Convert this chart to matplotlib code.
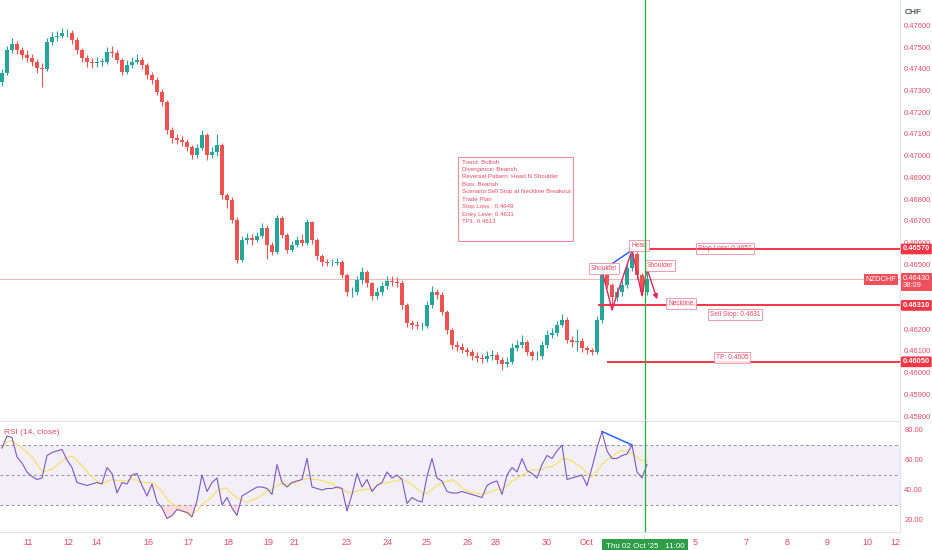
import numpy as np
import pandas as pd
import matplotlib
matplotlib.use("Agg")
import matplotlib.pyplot as plt
from matplotlib.transforms import blended_transform_factory
from matplotlib.patches import FancyArrowPatch, Rectangle

plt.rcParams['font.family'] = ['Liberation Sans Narrow', 'Liberation Sans', 'DejaVu Sans']

# hourly-ish bars of NZDCHF
closes = [.47381, .47487, .47515, .47487, .47464, .47450, .47432, .47404, .47399, .47524,
          .47547, .47552, .47565, .47565, .47533, .47487, .47450, .47432, .47427, .47432,
          .47432, .47478, .47473, .47441, .47386, .47418, .47432, .47441, .47418, .47372,
          .47349, .47294, .47247, .47118, .47082, .47072, .47063, .47040, .47003, .47035,
          .47095, .47003, .47017, .47049, .46819, .46796, .46704, .46519, .46611, .46621,
          .46611, .46630, .46667, .46588, .46556, .46713, .46635, .46565, .46588, .46611,
          .46598, .46694, .46611, .46538, .46510, .46505, .46505, .46510, .46450, .46372,
          .46372, .46427, .46464, .46413, .46353, .46372, .46399, .46423, .46418, .46413,
          .46312, .46229, .46220, .46215, .46215, .46312, .46372, .46358, .46280, .46197,
          .46128, .46118, .46105, .46095, .46077, .46068, .46063, .46077, .46082, .46058,
          .46040, .46049, .46114, .46128, .46141, .46095, .46077, .46077, .46128, .46174,
          .46183, .46220, .46243, .46151, .46141, .46146, .46114, .46105, .46095, .46243,
          .46450, .46404, .46349, .46372, .46404, .46482, .46547, .46450, .46372, .46432]
highs = [.47400, .47505, .47540, .47530, .47500, .47485, .47470, .47445, .47425, .47540,
         .47570, .47575, .47590, .47585, .47580, .47545, .47495, .47465, .47450, .47455,
         .47450, .47500, .47505, .47485, .47450, .47440, .47455, .47470, .47455, .47425,
         .47385, .47360, .47305, .47255, .47130, .47100, .47090, .47075, .47050, .47055,
         .47120, .47105, .47040, .47100, .47060, .46830, .46810, .46715, .46630, .46645,
         .46640, .46650, .46690, .46680, .46600, .46725, .46720, .46645, .46605, .46630,
         .46640, .46710, .46700, .46620, .46545, .46525, .46525, .46530, .46520, .46460,
         .46395, .46445, .46485, .46475, .46420, .46395, .46420, .46445, .46445, .46440,
         .46425, .46320, .46245, .46240, .46235, .46330, .46400, .46385, .46370, .46290,
         .46205, .46145, .46135, .46120, .46110, .46095, .46085, .46100, .46105, .46095,
         .46070, .46070, .46135, .46150, .46175, .46150, .46105, .46100, .46145, .46195,
         .46205, .46240, .46270, .46255, .46170, .46200, .46160, .46125, .46115, .46260,
         .46470, .46465, .46415, .46395, .46425, .46500, .46565, .46555, .46460, .46480]
lows = [.47320, .47370, .47475, .47470, .47445, .47430, .47415, .47380, .47317, .47390,
        .47510, .47530, .47540, .47545, .47515, .47470, .47430, .47410, .47405, .47410,
        .47415, .47420, .47455, .47425, .47370, .47375, .47405, .47420, .47400, .47355,
        .47330, .47280, .47230, .47100, .47060, .47055, .47045, .47020, .46985, .46990,
        .47025, .46980, .46990, .47000, .46800, .46760, .46690, .46505, .46510, .46595,
        .46590, .46600, .46620, .46525, .46540, .46545, .46620, .46550, .46555, .46580,
        .46585, .46590, .46595, .46520, .46490, .46490, .46490, .46495, .46435, .46355,
        .46350, .46360, .46410, .46395, .46335, .46340, .46360, .46385, .46400, .46395,
        .46295, .46210, .46200, .46200, .46195, .46205, .46300, .46340, .46265, .46180,
        .46110, .46100, .46090, .46075, .46060, .46050, .46045, .46050, .46060, .46040,
        .46012, .46025, .46040, .46100, .46115, .46080, .46060, .46060, .46065, .46115,
        .46160, .46170, .46210, .46135, .46120, .46100, .46095, .46085, .46080, .46085,
        .46230, .46390, .46290, .46330, .46355, .46390, .46470, .46430, .46355, .46360]
first_open = .47340

rsi = [68, 76, 75, 62, 58, 52, 49, 47, 48, 63, 65, 66, 67, 60, 55, 45, 44, 43, 44, 45,
       44, 55, 51, 38, 45, 44, 50, 51, 43, 36, 44, 32, 28, 21, 23, 27, 26, 25, 22, 33,
       50, 39, 45, 48, 30, 35, 28, 23, 36, 38, 40, 42, 42, 41, 37, 57, 45, 42, 45, 46,
       47, 61, 42, 41, 40, 41, 41, 42, 41, 26, 37, 51, 42, 47, 39, 43, 45, 52, 48, 50,
       47, 31, 35, 33, 32, 49, 61, 48, 46, 39, 38, 38, 39, 38, 37, 36, 35, 43, 45, 46,
       37, 50, 55, 52, 61, 53, 51, 48, 57, 63, 61, 66, 70, 47, 48, 49, 50, 43, 55, 68,
       79, 66, 61, 61, 63, 64, 70, 52, 48, 57]

day_ticks = [5.2, 13.2, 18.8, 29.2, 37.2, 45.2, 53.2, 58.6, 69, 77.2, 85, 93.2, 98.8,
             109, 117, 138.6, 148.8, 157, 165, 173, 178.6]
day_labels = ["11", "12", "14", "16", "17", "18", "19", "21", "23", "24", "25", "26",
              "28", "30", "Oct", "5", "7", "8", "9", "10", "12"]

stop_loss = 0.4657
neckline = 0.4631
take_profit = 0.4605
last_price = 0.4643
price_ticks = [0.458 + 0.001 * k for k in range(19)]
hidden_ticks = [0.463, 0.464]   # covered by the price tags on the axis

plan_lines = ["Trend: Bullish", "Divergence: Bearish", "Reversal Pattern: Head N Shoulder",
              "Bias: Bearish", "Scenario:Sell Stop at Neckline Breakout", "Trade Plan",
              "Stop Loss : 0.4649", "Entry Leve: 0.4631", "TP1: 0.4613"]

# pattern bars
l_sh, l_dip, head, r_dip, r_sh = 120, 122, 126, 128, 129
cursor_bar = 128.6

UP = "#26a69a"
DOWN = "#ef5350"
RED = "#f23645"
TXT = "#e84a63"
GRID = "#e0e3eb"
AXFS = 5.4

fig = plt.figure(figsize=(9.32, 5.5), dpi=100)
ax = fig.add_axes([0, 1 - 420 / 550, 900 / 932, 420 / 550])
ax2 = fig.add_axes([0, 1 - 532 / 550, 900 / 932, 111 / 550], sharex=ax)

n = len(closes)
xs = np.arange(n)
opens = [first_open] + closes[:-1]
for i in range(n):
    col = UP if closes[i] >= opens[i] else DOWN
    ax.vlines(xs[i], lows[i], highs[i], color=col, lw=0.8, zorder=3)
    lo, hi = sorted([opens[i], closes[i]])
    ax.bar(xs[i], max(hi - lo, 0.00002), bottom=lo, width=0.7, color=col, lw=0, zorder=4)

ax.set_xlim(-0.4, 179.6)
ax.set_ylim(0.45782, 0.47717)

# current price line
ax.axhline(last_price, color="#f9b4ba", lw=0.7, zorder=1)

# trade levels
ax.hlines(stop_loss, 128.6, 179.6, color=RED, lw=1.4, zorder=5)
ax.hlines(neckline, 119.2, 179.6, color=RED, lw=1.4, zorder=5)
ax.hlines(take_profit, 121, 179.6, color=RED, lw=1.4, zorder=5)

# head & shoulders path
hs_x = [l_sh, l_dip, head, r_dip, r_sh]
hs_y = [highs[l_sh], lows[l_dip], highs[head], lows[r_dip], highs[r_sh]]
ax.plot(hs_x, hs_y, color="#e0245e", lw=1.0, zorder=6)
ax.add_patch(FancyArrowPatch((r_sh, highs[r_sh]), (r_sh + 2.2, 0.46326),
                             arrowstyle="-|>", mutation_scale=7, color="#e0245e", lw=1.0, zorder=6))
ax.plot([l_sh, head], [highs[l_sh], highs[head]], color="#2962ff", lw=1.1, zorder=7)

box = dict(boxstyle="square,pad=0.3", fc="white", ec="#f08aa0", lw=0.7, alpha=0.85)
lab = dict(fontsize=4.8, color=TXT, ha="center", va="center", zorder=8)
ax.text(127.4, 0.46584, "Head", bbox=box, **lab)
ax.text(120.4, 0.46482, "Shoulder", bbox=box, **lab)
ax.text(131.6, 0.46492, "Shoulder", bbox=box, **lab)
ax.text(135.8, 0.46321, "Neckline", bbox=box, **lab)
ax.text(144.6, stop_loss, "Stop Loss: 0.4657", bbox=dict(box, fc="none"), **lab)
ax.text(146.6, 0.46266, "Sell Stop: 0.4631", bbox=box, **lab)
ax.text(146.0, 0.46072, "TP: 0.4605", bbox=box, **lab)

# trade plan note
ax.add_patch(Rectangle((91.2, 0.46607), 23.0, 0.00387, fc="white", ec="#f08aa0", lw=0.8, zorder=7))
ax.text(91.9, 0.46982, "\n".join(plan_lines), fontsize=4.4, color=TXT, ha="left", va="top",
        linespacing=1.62, zorder=8)

# vertical cursor
for a in (ax, ax2):
    a.axvline(cursor_bar, color="#1fae3a", lw=0.9, zorder=9)

# price axis
ax.yaxis.tick_right()
ax.set_yticks(price_ticks)
ax.set_yticklabels(["" if any(abs(p - h) < 1e-9 for h in hidden_ticks) else f"{p:.5f}"
                    for p in price_ticks])
ax.tick_params(axis="y", length=0, labelsize=AXFS, labelcolor=TXT, pad=3)
ax.tick_params(axis="x", length=0, labelbottom=False)
for s in ["top", "left", "bottom"]:
    ax.spines[s].set_visible(False)
ax.spines["right"].set_color(GRID)

tr = blended_transform_factory(ax.transAxes, ax.transData)
for lvl in (stop_loss, neckline, take_profit):
    ax.text(1.003, lvl, f"{lvl:.5f}", transform=tr, fontsize=AXFS, color="white", fontweight="bold",
            ha="left", va="center", zorder=10, clip_on=False,
            bbox=dict(boxstyle="round,pad=0.25,rounding_size=0.15", fc=RED, ec="none"))
ax.text(1.003, last_price - 0.00012, f"{last_price:.5f}\n38:09", transform=tr, fontsize=AXFS,
        color="white", ha="left", va="center", zorder=10, clip_on=False, linespacing=1.1,
        bbox=dict(boxstyle="square,pad=0.25", fc="#f0505c", ec="none"))
ax.text(0.996, last_price, "NZDCHF", transform=tr, fontsize=5.4, color="white",
        ha="right", va="center", zorder=10, clip_on=False,
        bbox=dict(boxstyle="square,pad=0.25", fc="#f0505c", ec="none"))
fig.text(905 / 932, 1 - 12 / 550, "CHF", fontsize=6, color="#131722", ha="left", va="center")

# RSI pane
ma = pd.Series(rsi).rolling(6, min_periods=1).mean()
ax2.axhspan(30, 70, color="#7e57c2", alpha=0.09, lw=0)
for lvl in (70, 50, 30):
    ax2.axhline(lvl, color="#9598a1", lw=0.8, ls=(0, (2.5, 2.5)))
r = np.array(rsi, dtype=float)
ax2.fill_between(xs, r, 30, where=r < 30, interpolate=True, color="#f7525f", alpha=0.2, lw=0)
ax2.plot(xs, ma, color="#f5e27a", lw=1.0)
ax2.plot(xs, r, color="#7e57c2", lw=0.8)
ax2.plot([l_sh, head], [rsi[l_sh], rsi[head]], color="#2962ff", lw=1.1)
ax2.set_ylim(12, 86)
ax2.yaxis.tick_right()
ax2.set_yticks([20, 40, 60, 80])
ax2.set_yticklabels(["20.00", "40.00", "60.00", "80.00"])
ax2.tick_params(axis="y", length=0, labelsize=AXFS, labelcolor=TXT, pad=3)
ax2.set_xticks(day_ticks)
ax2.set_xticklabels(day_labels)
ax2.tick_params(axis="x", length=0, labelsize=6.5, labelcolor=TXT, pad=4)
ax2.spines["left"].set_visible(False)
for s in ["top", "bottom", "right"]:
    ax2.spines[s].set_color(GRID)
ax2.text(0.005, 0.9, "RSI (14, close)", transform=ax2.transAxes, fontsize=6, color=TXT,
         ha="left", va="center")
ax2.text(cursor_bar, -0.13, "Thu 02 Oct '25   11:00", transform=blended_transform_factory(
    ax2.transData, ax2.transAxes), fontsize=5.8, color="white", ha="center", va="center",
    clip_on=False, zorder=10, bbox=dict(boxstyle="square,pad=0.45", fc="#2e9e48", ec="none"))

fig.savefig("out.png", dpi=100)
